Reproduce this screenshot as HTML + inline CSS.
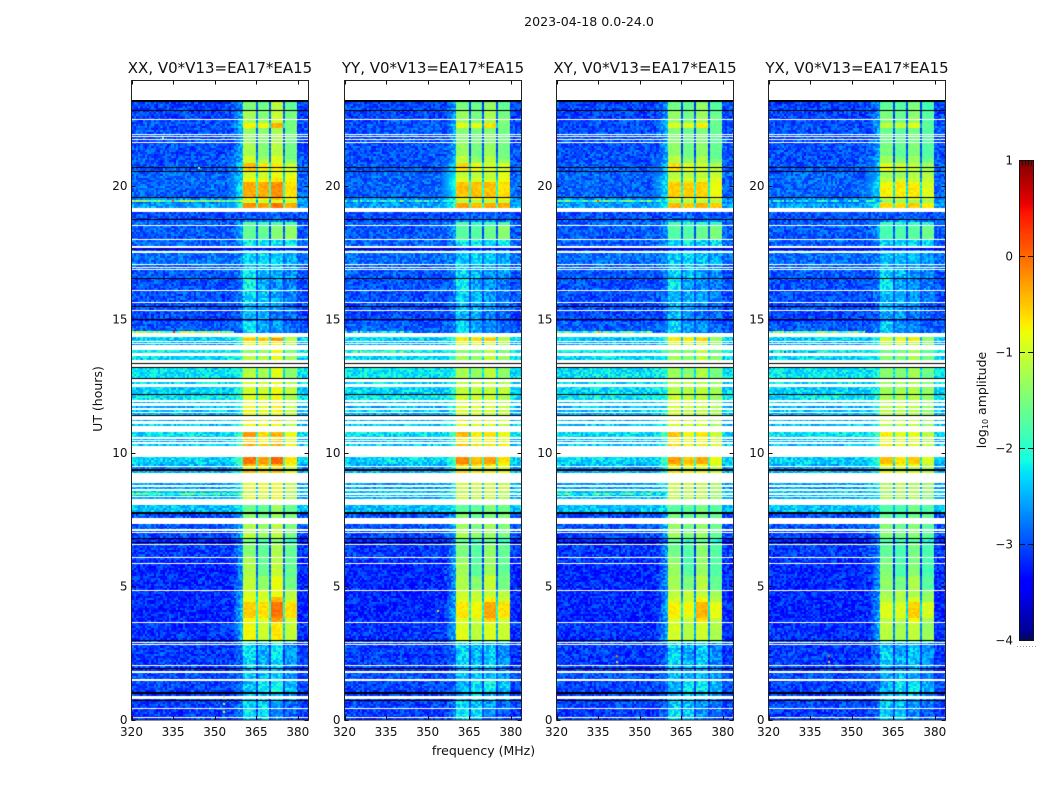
<!DOCTYPE html>
<html lang="en">
<head>
<meta charset="utf-8">
<title>2023-04-18 dynamic spectra</title>
<style>
html,body{margin:0;padding:0;background:#fff;width:1050px;height:800px;overflow:hidden}
#stage{position:relative;width:1050px;height:800px;background:#fff}
canvas{position:absolute;display:block}
svg{position:absolute;left:0;top:0}
text{font-family:"DejaVu Sans","Liberation Sans",sans-serif;fill:#111}
</style>
</head>
<body>
<div id="stage">
<svg id="overlay" width="1050" height="800" viewBox="0 0 1050 800"></svg>
</div>
<script>
/* ---------- chart data ---------- */
const W = null;   // flagged sample: left white
const K = -99;    // zero-amplitude sample: drawn black

const panelNames = ["XX, V0*V13=EA17*EA15", "YY, V0*V13=EA17*EA15", "XY, V0*V13=EA17*EA15", "YX, V0*V13=EA17*EA15"];
const xTickLabels = [320, 335, 350, 365, 380];
const yTickLabels = [0, 5, 10, 15, 20];
const colorbarTicks = [1, 0, -1, -2, -3, -4];

// Frequency bands (MHz): start and end of the four bright bands
const bandStartMHz = [360.35, 365.55, 370.3, 375.4];
const bandEndMHz = [365.0, 369.8, 374.8, 379.7];

// Per-polarisation change in log10 amplitude of each band, relative to XX
const yyBandOffset = [-0.1, -0.1, -0.2, 0];
const xyBandOffset = [-0.15, -0.15, -0.25, -0.15];
const yxBandOffset = [-0.3, -0.25, -0.35, -0.25];
const panelBandOffsets = [[0, 0, 0, 0], yyBandOffset, xyBandOffset, yxBandOffset];

// Diffuse glow left of band 1 near 20 UT, by panel (log10 amplitude)
const haloLevels = [-2.6, -1.9, -2.4, -2.4];
const haloUT = [20.1];

// Time runs, newest first: [samples, background, band1, band2, band3, band4]
const startUT = [23.2];
const sampleHours = [0.03745];
const timeRuns = [
[1.5,K],[8.5,-3.05,-1.45,-1.55,-1.15,-1.65],[1,K],[7.5,-3.05,-1.25,-1.45,-1.05,-1.55],[1,W],[.5,-3.05,-1.25,-1.45,-1.05,-1.55],[1,W],
[2,-3,-1.25,-1.35,-1.05,-1.55],[5,-3,-.75,-.75,-.4,-1.5],[5.5,-3,-1.35,-1.45,-1.25,-1.55],[1,W],[1,-3,-1.35,-1.45,-1.25,-1.55],[1,W],
[2.5,-3,-1.35,-1.45,-1.25,-1.55],[1,W],[1.5,-3,-1.35,-1.45,-1.25,-1.55],[1,W],[13.5,-3,-1.25,-1.45,-1.15,-1.55],[3,-3,-.95,-1.35,-.9,-1.55],
[4,-3,-1.05,-1.25,-.95,-1.35],[3.5,-2.95,-.45,-.7,-.7,-1],[1,K],[3,-2.95,-.5,-.7,-.75,-1],[1,K],[6.5,-2.9,-1,-1.05,-.85,-.9],
[4,-2.9,-.8,-.8,-.7,-.8],[14,-2.9,-.35,-.35,-.2,-.65],[1,-2.9,-.3,-.3,-.15,-.6],[1,K],[2,-2.7,-.75,-.75,-.55,-.8],[1.5,-2.6,-1.1,-1.1,-1,-1.1],
[1.5,-2.8,-.9,-.9,-.8,-.9],[4.5,-2.6,-.2,-.3,-.05,-.35],[4.5,W],[6.5,-3,-2.9,-2.9,-2.9,-3],[1,K],[2,-3,-2.7,-2.7,-2.7,-2.8],
[3,-2.9,-1.7,-1.9,-1.8,-1.8],[1,W],[13.5,-2.95,-1.65,-1.65,-1.45,-1.4],[1,W],[6,-2.9,-2.2,-2.2,-2.2,-2.2],[1.5,W],
[2,-3.7,-3.4,-3.4,-3.4,-3.5],[1.5,-2.95,-2.4,-2.4,-2.4,-2.5],[1.5,W],[11,-2.85,-2.35,-2.3,-2.35,-2.55],[1,W],[2,-2.9,-2.4,-2.4,-2.4,-2.6],
[1,W],[1.5,-2.9,-2.4,-2.4,-2.4,-2.6],[1,W],[7.5,-2.95,-2.25,-2.4,-2.55,-2.65],[1.2,K],[11.3,-3,-2.15,-2.55,-2.65,-2.75],[1,W],
[10.5,-3,-2.35,-2.45,-2.55,-2.75],[1,W],[3.5,-3.05,-2.45,-2.55,-2.65,-2.85],[.8,K],[3.2,-3,-2.45,-2.55,-2.65,-2.85],[1,W],
[7.5,-3.05,-2.45,-2.55,-2.75,-2.85],[1.5,K],[1,-3.4,-3,-3,-3,-3.3],[12,-2.95,-2.25,-2.55,-2.65,-2.85],[3.5,W],
[1.5,-2.3,-.85,-.85,-.7,-1.2],[2.7,-2.4,-.55,-.5,-.25,-1.15],[1,W],[1.5,-2.5,-.85,-.85,-.75,-1.2],[.8,W],[1.2,-2.6,-.9,-.9,-.8,-1.25],[4.8,W],
[3,-2.2,-1.3,-1.3,-.85,-1.45],[3,W],[4,-2.3,-1.15,-1.2,-.85,-1.3],[2.5,W],[.8,K],[3.2,W],[.8,K],[1,W],
[9.7,-2.25,-1.15,-1.25,-.9,-1.4],[.8,K],[3.2,W],[1.5,-2.3,-1,-1,-.9,-1.2],[3.5,W],[6.5,-2.35,-1,-1,-.85,-1.1],[1,K],
[5.5,-2.25,-.9,-.95,-.8,-1.2],[1.5,W],[1.5,-2.4,-.85,-.85,-.75,-1.1],[3,W],[1.5,-2.5,-.85,-.85,-.75,-1.1],[2.5,W],
[2,-2.4,-.8,-.9,-.75,-1.1],[1,W],[1.5,-2.5,-.85,-.9,-.85,-1.1],[.5,W],[.8,K],[3.7,W],[1,-2.5,-.55,-.75,-.5,-1],[3.5,W],
[1.5,-2.4,-.85,-.85,-.75,-1.1],[6,W],[5.8,-2.3,-.3,-.6,-.4,-.85],[1.7,W],[1.3,-2.5,-.55,-.75,-.55,-.95],[1,W],[1,-2.5,-.55,-.75,-.55,-.95],[1.2,W],
[2.5,-2.4,-.4,-.55,-.4,-.75],[10.7,W],[6.8,-2.35,-.05,-.3,0,-.65],[2.3,-2.5,-.4,-.5,-.4,-.85],[1.2,W],[2.2,-2.7,-.85,-.85,-.75,-1],[1.4,K],
[2.1,-2.5,-.45,-.6,-.5,-.85],[10,W],[2.6,-2.6,-.9,-.9,-.85,-1.1],[2,W],[1.4,-2.6,-.9,-.9,-.85,-1.1],[2.6,W],[2,-2.4,-1.05,-1,-.85,-1.2],[1.2,W],
[1,-2.5,-1,-1,-.85,-1.2],[1.5,W],[1.7,-2.5,-.9,-1,-.85,-1.2],[6,W],[7.6,-2.45,-1.6,-1.6,-1.3,-1.6],[1.2,K],
[4,-3,-1.4,-1.6,-1.3,-1.5],[6.5,W],[5,-2.95,-1.2,-1.4,-1.1,-1.5],[1.5,W],[1.5,-3,-1.2,-1.4,-1.1,-1.5],[1.2,W],
[4.8,-3.05,-1.15,-1.35,-1.1,-1.55],[1.2,K],[2.3,-3.3,-1.55,-1.85,-1.45,-1.95],[1,K],[1,-3.2,-1.55,-1.85,-1.45,-1.85],[1,W],
[12.5,-3.1,-1.45,-1.65,-1.2,-1.65],[1,W],[5,-3.15,-1.25,-1.65,-1.15,-1.65],[1,W],[12,-3.2,-1.2,-1.6,-1.1,-1.65],
[14,-3.2,-1.1,-1.35,-.85,-1.55],[1,W],[6,-3.2,-.95,-.95,-.85,-1.15],[5,-3.2,-.85,-.9,-.45,-1.05],[16,-3.2,-.55,-.65,-.05,-.65],
[4,-3.2,-.8,-.9,-.3,-1],[1,W],[16.5,-3.15,-.8,-1,-.7,-1.05],[1.2,K],[.8,-3,-1.35,-1.45,-1.25,-1.55],[1,W],[.8,K],
[.7,-3.05,-2.3,-2.5,-2.3,-2.65],[1,W],[19.5,-3.1,-2.3,-2.5,-2.3,-2.65],[1,W],[2,-3.05,-2.4,-2.5,-2.4,-2.75],[1.2,K],
[2.3,-3.2,-2.55,-2.55,-2.55,-2.85],[1.5,W],[6.5,-3,-2.4,-2.4,-2.4,-2.65],[2,W],[11.3,-3.05,-2.45,-2.2,-2.1,-2.45],[1.5,K],
[2.2,-3.1,-2.45,-2.3,-2.3,-2.65],[3,W],[1,-3.1,-2.45,-2.3,-2.3,-2.65],[1,K],[6.5,-3.05,-2.3,-2.4,-2.55,-2.85],[1,W],
[8,-3.1,-2.2,-2.3,-2.65,-2.9],[1,W],[2,-3.05,-2.3,-2.4,-2.75,-2.9]
];

// Interference lines: [panel, UT, start MHz, end MHz, log10 amplitude]
const rfiLines = [
[0,19.44,320,361,-1.6],[1,19.44,320,361,-2.2],[2,19.44,320,361,-1.8],[3,19.44,320,361,-2.3],
[0,14.55,320,357,-1.5],[1,14.55,320,345,-2.3],[2,14.55,320,355,-1.9],[3,14.55,320,355,-1.7],
[1,13.8,320,342,-1.9],[3,13.8,320,340,-2.3],[0,8.48,320,360,-1.8],[2,8.48,320,360,-1.9]
];
// Isolated hot channels: [panel, UT, MHz, log10 amplitude]
const rfiSpots = [
[0,19.44,334.5,.2],[0,19.44,351,-.6],[0,14.55,335,.4],[0,14.55,351,-.5],[0,.88,352.9,-.7],[0,.62,352.9,-1],[0,.3,353,-1.2],
[1,4.1,353.5,-.5],[1,19.44,340,-1.2],[2,19.44,334.5,.1],[2,2.4,341.6,0],[2,2.2,341.6,-.5],[2,14.55,335,-.3],
[3,2.4,341.6,.1],[3,2.2,341.6,-.4],[3,14.55,354,-.6],[0,20.7,344,-1.3],[0,21.8,331,-1.5]
];
// Fixed channel-to-channel scatter (log10 amplitude)
const speckle = [-.14,.2,-.2,.05,.28,-.08,-.25,.12,.36,-.17,.02,-.28,.17,-.05,.26,-.22,.08,-.12,.22,-.02,
-.3,.13,.32,-.1,-.18,.04,.2,-.26,.1,-.06,.3,-.15,-.23,.15,.0,-.09,.24];

/* ---------- axis functions ---------- */
const panelLefts = [131.5, 344.5, 556.5, 768.5];
const axWidth = 177, axTop = 80.5, axBottom = 720;
const plotTop = 100;
const pxPerMHz = 2.772, pxPerHour = 26.7;
const xAxis = (p, mhz) => panelLefts[p] + (mhz - 320) * pxPerMHz;
const yAxis = ut => 719.5 - ut * pxPerHour;

function jet(v) {
  const t = Math.min(1, Math.max(0, (v + 4) / 5));
  const ramp = x => Math.min(1, Math.max(0, x));
  const r = ramp(t < .35 ? 0 : t < .66 ? (t - .35) / .31 : t < .89 ? 1 : 1 - .5 * (t - .89) / .11);
  const g = ramp(t < .125 ? 0 : t < .375 ? (t - .125) / .25 : t < .64 ? 1 : t < .91 ? 1 - (t - .64) / .27 : 0);
  const b = ramp(t < .11 ? .5 + .5 * t / .11 : t < .34 ? 1 : t < .65 ? 1 - (t - .34) / .31 : 0);
  return "rgb(" + Math.round(r * 255) + "," + Math.round(g * 255) + "," + Math.round(b * 255) + ")";
}

/* ---------- heatmaps ---------- */
const stage = document.getElementById("stage");
const overlay = document.getElementById("overlay");
const channelMHz = 0.4;
const channelCount = 160;

function speckleAt(c, rowIndex, p) {
  const bin = c >> 1;
  const mixed = Math.abs(((bin * 73856093) ^ (rowIndex * 19349663) ^ (p * 83492791)) >> 3);
  return speckle[mixed % speckle.length];
}

function cellLevel(p, run, mhz, speckleValue) {
  const bg = run[1];
  const bands = run.slice(2, 6).map((v, b) => v + panelBandOffsets[p][b] * Math.min(1.4, Math.max(0, (v + 3) / 2)));
  const mean = (bands[0] + bands[1] + bands[2] + bands[3]) / 4;
  for (let b = 0; b < 4; b++) {
    if (mhz >= bandStartMHz[b] && mhz < bandEndMHz[b]) {
      return bands[b] + speckleValue * (bands[b] < -1.9 ? 1 : .35);
    }
  }
  if (mhz >= bandStartMHz[0] && mhz < bandEndMHz[3]) return Math.max(bg, mean - 1.5) + speckleValue * .5;
  if (mhz >= 356 && mhz < bandStartMHz[0]) {
    const share = (mhz - 356) / (bandStartMHz[0] - 356);
    return bg + Math.max(0, bands[0] - bg) * .3 * share + speckleValue;
  }
  return bg + speckleValue;
}

function drawPanel(p) {
  const left = Math.ceil(panelLefts[p] + .5);
  const width = Math.floor(axWidth - 1);
  const height = Math.round(axBottom - plotTop);
  const canvas = document.createElement("canvas");
  
  
  canvas.width = width;
  canvas.height = height;
  canvas.style.left = left + "px";
  canvas.style.top = plotTop + "px";
  stage.insertBefore(canvas, overlay);
  const ctx = canvas.getContext("2d");
  ctx.fillStyle = "#fff";
  ctx.fillRect(0, 0, width, height);

  let ut = startUT[0];
  timeRuns.forEach(run => {
    const nextUT = ut - run[0] * sampleHours[0];
    const y0 = Math.round(yAxis(ut) - plotTop);
    const y1 = Math.max(y0 + 1, Math.round(yAxis(nextUT) - plotTop));
    ut = nextUT;
    if (run[1] === null || run[1] === undefined) return;
    if (run[1] === K) {
      ctx.fillStyle = "#000";
      ctx.fillRect(0, y0, width, y1 - y0);
      return;
    }
    for (let y = y0; y < y1; y++) {
      const rowIndex = y >> 1;
      for (let c = 0; c < channelCount; c++) {
        const mhz = 320 + (c + .5) * channelMHz;
        let level = cellLevel(p, run, mhz, speckleAt(c, rowIndex, p));
        const rowUT = (719.5 - (y + plotTop)) / pxPerHour;
        if (mhz >= 355 && mhz < bandStartMHz[0] && Math.abs(rowUT - haloUT[0]) < 1) {
          const reach = (1 - Math.abs(rowUT - haloUT[0])) * (mhz - 355) / (bandStartMHz[0] - 355);
          level = Math.max(level, run[1] + (haloLevels[p] - run[1]) * reach);
        }
        const x0 = Math.round(xAxis(p, 320 + c * channelMHz)) - left;
        const x1 = Math.round(xAxis(p, 320 + (c + 1) * channelMHz)) - left;
        ctx.fillStyle = jet(level);
        ctx.fillRect(x0, y, x1 - x0, 1);
      }
    }
  });

  rfiLines.filter(line => line[0] === p).forEach(line => {
    const y = Math.round(yAxis(line[1]) - plotTop);
    for (let c = 0; c < channelCount; c++) {
      const mhz = 320 + (c + .5) * channelMHz;
      if (mhz < line[2] || mhz >= line[3]) continue;
      const x0 = Math.round(xAxis(p, 320 + c * channelMHz)) - left;
      const x1 = Math.round(xAxis(p, 320 + (c + 1) * channelMHz)) - left;
      ctx.fillStyle = jet(line[4] + speckleAt(c, 7, p) * 2);
      ctx.fillRect(x0, y, x1 - x0, 2);
    }
  });

  rfiSpots.filter(spot => spot[0] === p).forEach(spot => {
    ctx.fillStyle = jet(spot[3]);
    ctx.fillRect(Math.round(xAxis(p, spot[2])) - left, Math.round(yAxis(spot[1]) - plotTop), 2, 2);
  });
}

/* ---------- overlay drawing ---------- */
const NS = "http://www.w3.org/2000/svg";
function addSvg(tag, attrs, text, parent) {
  const el = document.createElementNS(NS, tag);
  Object.keys(attrs).forEach(k => el.setAttribute(k, attrs[k]));
  if (text !== undefined) el.textContent = text;
  (parent || overlay).appendChild(el);
  return el;
}

function drawAxes(p) {
  const group = addSvg("g", {});
  
  
  const left = panelLefts[p], right = left + axWidth;

  const frame = addSvg("rect", { x: left, y: axTop, width: axWidth, height: axBottom - axTop, fill: "none", stroke: "#222", "stroke-width": 1 }, undefined, group);
  
  

  const title = addSvg("text", { x: left + axWidth / 2, y: 73, "text-anchor": "middle", "font-size": "15" }, panelNames[p], group);
  
  

  xTickLabels.forEach(v => {
    const x = Math.round(xAxis(p, v)) + .5;
    addSvg("line", { x1: x, x2: x, y1: axBottom, y2: axBottom - 4, stroke: "#111", "stroke-width": 1 }, undefined, group);
    addSvg("line", { x1: x, x2: x, y1: axTop, y2: axTop + 4, stroke: "#111", "stroke-width": 1 }, undefined, group);
    const label = addSvg("text", { x: xAxis(p, v), y: 736, "text-anchor": "middle", "font-size": "12" }, String(v), group);
    
    
  });

  yTickLabels.forEach(v => {
    const y = Math.round(yAxis(v)) + .5;
    addSvg("line", { x1: left, x2: left + 4, y1: y, y2: y, stroke: "#111", "stroke-width": 1 }, undefined, group);
    addSvg("line", { x1: right, x2: right - 4, y1: y, y2: y, stroke: "#111", "stroke-width": 1 }, undefined, group);
    const label = addSvg("text", { x: left - 4, y: yAxis(v) + 4.5, "text-anchor": "end", "font-size": "12" }, String(v), group);
    
    
  });
}

function drawColorbar() {
  const barLeft = 1019, barTop = 160, barWidth = 15, barHeight = 480;
  const cbLevel = v => barTop + (1 - v) / 5 * barHeight;
  const canvas = document.createElement("canvas");
  
  
  canvas.width = barWidth;
  canvas.height = barHeight;
  canvas.style.left = barLeft + "px";
  canvas.style.top = barTop + "px";
  stage.insertBefore(canvas, overlay);
  const ctx = canvas.getContext("2d");
  for (let y = 0; y < barHeight; y++) {
    ctx.fillStyle = jet(1 - (y + .5) / barHeight * 5);
    ctx.fillRect(0, y, barWidth, 1);
  }
  const group = addSvg("g", {});
  
  
  addSvg("rect", { x: barLeft + .5, y: barTop + .5, width: barWidth - 1, height: barHeight, fill: "none", stroke: "#111", "stroke-width": 1 }, undefined, group);
  colorbarTicks.forEach(v => {
    const y = Math.round(cbLevel(v)) + .5;
    if (v < 1 && v > -4) {
      addSvg("line", { x1: barLeft + 1, x2: barLeft + 6, y1: y, y2: y, stroke: "#111", "stroke-width": 1 }, undefined, group);
      addSvg("line", { x1: barLeft + 9, x2: barLeft + 14, y1: y, y2: y, stroke: "#111", "stroke-width": 1 }, undefined, group);
    } else {
      [3, 6, 9, 12].forEach(dx => {
        const y2 = v === 1 ? y + 5 : y - 5;
        addSvg("line", { x1: barLeft + dx + .5, x2: barLeft + dx + .5, y1: y, y2: y2, stroke: "#111", "stroke-width": 1 }, undefined, group);
      });
    }
    const label = addSvg("text", { x: 1013, y: cbLevel(v) + 4.5, "text-anchor": "end", "font-size": "12" }, v < 0 ? "\u2212" + (-v) : String(v), group);
    
    
  });
  const dots = addSvg("line", { x1: 1017, x2: 1036, y1: 646.5, y2: 646.5, stroke: "#999", "stroke-width": 1, "stroke-dasharray": "1 2" }, undefined, group);
  
  

  const title = addSvg("text", { transform: "translate(986 400) rotate(-90)", "text-anchor": "middle", "font-size": "12.5" }, undefined, group);
  
  
  addSvg("tspan", {}, "log", title);
  addSvg("tspan", { dy: "2", "font-size": "8" }, "10", title);
  addSvg("tspan", { dy: "-2" }, " amplitude", title);
}

function drawFigureText() {
  const suptitle = addSvg("text", { x: 589, y: 26, "text-anchor": "middle", "font-size": "12.6" }, "2023-04-18 0.0-24.0");
  
  
  const xTitle = addSvg("text", { x: 483.5, y: 755, "text-anchor": "middle", "font-size": "12.5" }, "frequency (MHz)");
  
  
  const yTitle = addSvg("text", { transform: "translate(102 399) rotate(-90)", "text-anchor": "middle", "font-size": "12.5" }, "UT (hours)");
  
  
}

panelNames.forEach((name, p) => { drawPanel(p); drawAxes(p); });
drawColorbar();
drawFigureText();
</script>
</body>
</html>
